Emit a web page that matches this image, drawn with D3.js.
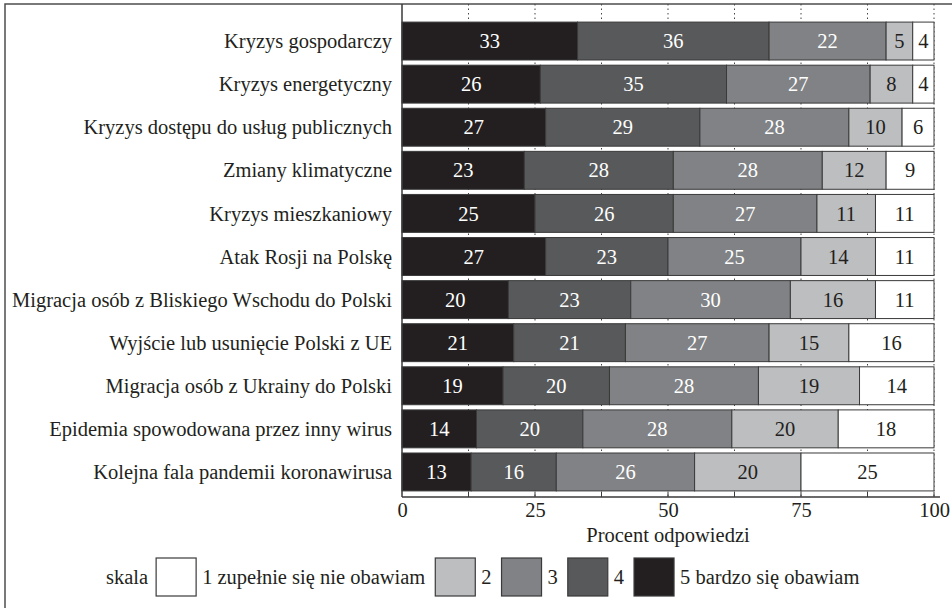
<!DOCTYPE html>
<html>
<head>
<meta charset="utf-8">
<script src="https://cdn.jsdelivr.net/npm/d3@7"></script>
<style>
  body { margin: 0; background: #fff; }
  svg text { font-family: "Liberation Serif", "DejaVu Serif", serif; fill: #231f20; }
</style>
</head>
<body>
<div id="chart"></div>
<script>
// categories, top to bottom
var categories = [
    "Kryzys gospodarczy",
    "Kryzys energetyczny",
    "Kryzys dostępu do usług publicznych",
    "Zmiany klimatyczne",
    "Kryzys mieszkaniowy",
    "Atak Rosji na Polskę",
    "Migracja osób z Bliskiego Wschodu do Polski",
    "Wyjście lub usunięcie Polski z UE",
    "Migracja osób z Ukrainy do Polski",
    "Epidemia spowodowana przez inny wirus",
    "Kolejna fala pandemii koronawirusa"
];

// percentages per scale point (stacked left to right: 5, 4, 3, 2, 1)
var scale5 = [33, 26, 27, 23, 25, 27, 20, 21, 19, 14, 13];
var scale4 = [36, 35, 29, 28, 26, 23, 23, 21, 20, 20, 16];
var scale3 = [22, 27, 28, 28, 27, 25, 30, 27, 28, 28, 26];
var scale2 = [5, 8, 10, 12, 11, 14, 16, 15, 19, 20, 20];
var scale1 = [4, 4, 6, 9, 11, 11, 11, 16, 14, 18, 25];

var xTicks = [0, 25, 50, 75, 100];
var gridTicks = [12.5, 25, 37.5, 50, 62.5, 75, 87.5, 100];
var legendLabels = ["1 zupełnie się nie obawiam", "2", "3", "4", "5 bardzo się obawiam"];

var W = 952, H = 608;
var left = 402, right = 934, axisY = 497;
var FONT = '"Liberation Serif", "DejaVu Serif", serif';

var svg = d3.select("#chart").append("svg")
    .attr("width", W)
    .attr("height", H)
    .attr("font-family", FONT);

// font size fitted so labels keep roughly the original width
var probe = svg.append("text").attr("font-family", FONT).style("font-size", "20px").text("Kryzys gospodarczy");
var fs = 20 * 168 / probe.node().getComputedTextLength();
probe.remove();
fs = Math.round(fs * 10) / 10;

// outer frame
svg.append("rect")
    .attr("x", 5).attr("y", 4)
    .attr("width", 980).attr("height", 640)
    .attr("fill", "none")
    .attr("stroke", "#4d4d4d")
    .attr("stroke-width", 1.5);

var x = d3.scaleLinear().domain([0, 100]).range([left, right]);
var y = d3.scaleBand().domain(categories)
    .range([19.5, 493.5])
    .paddingInner(0.12)
    .paddingOuter(0.06);

var colors = {"5": "#231f20", "4": "#58595b", "3": "#808285", "2": "#bcbec0", "1": "#ffffff"};
var textColors = {"5": "#ffffff", "4": "#ffffff", "3": "#ffffff", "2": "#231f20", "1": "#231f20"};

// dotted grid
svg.append("g").selectAll("line")
    .data(gridTicks)
    .enter().append("line")
    .attr("x1", function (d) { return x(d); })
    .attr("x2", function (d) { return x(d); })
    .attr("y1", 4)
    .attr("y2", axisY)
    .attr("stroke", "#444")
    .attr("stroke-width", 1)
    .attr("stroke-dasharray", "1.5,3");

// stacked segments
var rows = categories.map(function (c, i) {
    var vals = [["5", scale5[i]], ["4", scale4[i]], ["3", scale3[i]], ["2", scale2[i]], ["1", scale1[i]]];
    var acc = 0;
    return vals.map(function (v) {
        var seg = {cat: c, key: v[0], value: v[1], x0: acc, x1: acc + v[1]};
        acc += v[1];
        return seg;
    });
});
var segs = [].concat.apply([], rows);

var bars = svg.append("g");
bars.selectAll("rect")
    .data(segs)
    .enter().append("rect")
    .attr("x", function (d) { return x(d.x0); })
    .attr("y", function (d) { return y(d.cat); })
    .attr("width", function (d) { return x(d.x1) - x(d.x0); })
    .attr("height", y.bandwidth())
    .attr("fill", function (d) { return colors[d.key]; })
    .attr("stroke", "#3a3a3a")
    .attr("stroke-width", 1);

bars.selectAll("text")
    .data(segs)
    .enter().append("text")
    .attr("x", function (d) { return (x(d.x0) + x(d.x1)) / 2; })
    .attr("y", function (d) { return y(d.cat) + y.bandwidth() / 2; })
    .attr("dy", "0.35em")
    .attr("text-anchor", "middle")
    .attr("font-family", FONT)
    .style("font-size", fs + "px")
    .style("fill", function (d) { return textColors[d.key]; })
    .text(function (d) { return d.value; });

// category labels
svg.append("g").selectAll("text")
    .data(categories)
    .enter().append("text")
    .attr("x", 392)
    .attr("y", function (d) { return y(d) + y.bandwidth() / 2; })
    .attr("dy", "0.35em")
    .attr("text-anchor", "end")
    .attr("font-family", FONT)
    .style("font-size", fs + "px")
    .text(function (d) { return d; });

// left plot edge
svg.append("line")
    .attr("x1", left).attr("x2", left)
    .attr("y1", 4).attr("y2", axisY)
    .attr("stroke", "#3a3a3a")
    .attr("stroke-width", 1.5);

// x axis
var xAxis = svg.append("g")
    .attr("transform", "translate(0," + axisY + ")")
    .call(d3.axisBottom(x).tickValues(xTicks).tickSize(0).tickPadding(5).tickFormat(d3.format("d")));
xAxis.attr("font-family", FONT).attr("font-size", fs);
xAxis.select(".domain").remove();
xAxis.selectAll("text")
    .attr("font-family", FONT)
    .style("font-family", FONT)
    .style("font-size", fs + "px")
    .attr("fill", "#231f20");
xAxis.append("line")
    .attr("x1", left).attr("x2", 940)
    .attr("stroke", "#3a3a3a")
    .attr("stroke-width", 1.5);
xAxis.selectAll(".minor")
    .data(gridTicks)
    .enter().append("line")
    .attr("class", "minor")
    .attr("x1", function (d) { return x(d); })
    .attr("x2", function (d) { return x(d); })
    .attr("y1", 0).attr("y2", -5)
    .attr("stroke", "#3a3a3a");

svg.append("text")
    .attr("x", (left + right) / 2)
    .attr("y", 542)
    .attr("text-anchor", "middle")
    .attr("font-family", FONT)
    .style("font-size", fs + "px")
    .text("Procent odpowiedzi");

// legend
var lg = svg.append("g");
var lx = 106, ly = 577, bw = 40, bh = 38;
var t0 = lg.append("text").attr("x", lx).attr("y", ly).attr("dy", "0.35em")
    .attr("font-family", FONT)
    .style("font-size", fs + "px").text("skala");
lx += t0.node().getComputedTextLength() + 8;
["1", "2", "3", "4", "5"].forEach(function (k, i) {
    lg.append("rect")
        .attr("x", lx).attr("y", ly - bh / 2)
        .attr("width", bw).attr("height", bh)
        .attr("fill", colors[k])
        .attr("stroke", "#3a3a3a")
        .attr("stroke-width", 1.2);
    lx += bw + 6;
    var t = lg.append("text").attr("x", lx).attr("y", ly).attr("dy", "0.35em")
        .attr("font-family", FONT)
        .style("font-size", fs + "px").text(legendLabels[i]);
    lx += t.node().getComputedTextLength() + 10;
});
</script>
</body>
</html>
